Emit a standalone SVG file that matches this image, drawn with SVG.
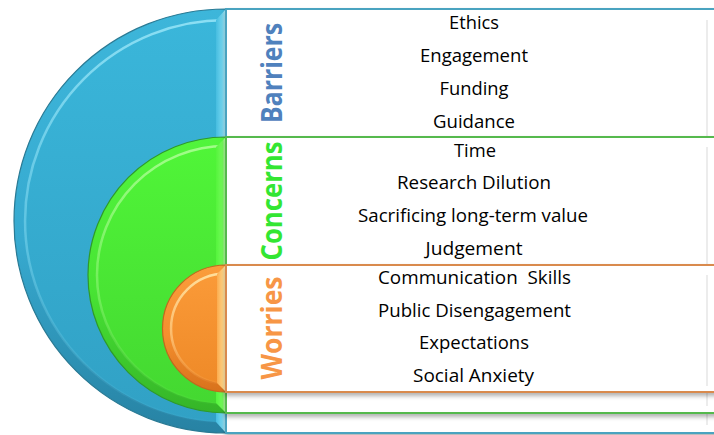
<svg xmlns="http://www.w3.org/2000/svg" width="714" height="435" viewBox="0 0 714 435">
  <defs>
    <filter id="boxShadow" x="-5%" y="-5%" width="110%" height="115%">
      <feDropShadow dx="0" dy="3" stdDeviation="2" flood-color="#000" flood-opacity="0.3"/>
    </filter>
    <filter id="soft" x="-5%" y="-5%" width="110%" height="110%">
      <feGaussianBlur stdDeviation="0.7"/>
    </filter>
    <!-- blue ring -->
    <linearGradient id="blueRim" x1="0" y1="0" x2="0" y2="1">
      <stop offset="0" stop-color="#3db6da"/>
      <stop offset="0.55" stop-color="#37aad0"/>
      <stop offset="1" stop-color="#2782a3"/>
    </linearGradient>
    <linearGradient id="blueMain" x1="0" y1="0" x2="0" y2="1">
      <stop offset="0" stop-color="#3ab6da"/>
      <stop offset="1" stop-color="#31a1c5"/>
    </linearGradient>
    <linearGradient id="blueHi" x1="0" y1="0" x2="0" y2="1">
      <stop offset="0" stop-color="#9fe9fa" stop-opacity="0.8"/>
      <stop offset="0.6" stop-color="#84dbf2" stop-opacity="0.45"/>
      <stop offset="1" stop-color="#6cc9e6" stop-opacity="0.05"/>
    </linearGradient>
    <linearGradient id="blueStrip" x1="0" y1="0" x2="1" y2="0">
      <stop offset="0" stop-color="#46bde0"/>
      <stop offset="0.6" stop-color="#6fd3ee"/>
      <stop offset="1" stop-color="#bdf4ff"/>
    </linearGradient>
    <!-- green ring -->
    <linearGradient id="greenRim" x1="0" y1="0" x2="0" y2="1">
      <stop offset="0" stop-color="#52f53c"/>
      <stop offset="0.55" stop-color="#48e434"/>
      <stop offset="1" stop-color="#35b428"/>
    </linearGradient>
    <linearGradient id="greenMain" x1="0" y1="0" x2="0" y2="1">
      <stop offset="0" stop-color="#50f538"/>
      <stop offset="1" stop-color="#44d831"/>
    </linearGradient>
    <linearGradient id="greenHi" x1="0" y1="0" x2="0" y2="1">
      <stop offset="0" stop-color="#b6ff9e" stop-opacity="0.8"/>
      <stop offset="0.6" stop-color="#9cf882" stop-opacity="0.45"/>
      <stop offset="1" stop-color="#80e868" stop-opacity="0.05"/>
    </linearGradient>
    <linearGradient id="greenStrip" x1="0" y1="0" x2="1" y2="0">
      <stop offset="0" stop-color="#55f43c"/>
      <stop offset="0.65" stop-color="#72f958"/>
      <stop offset="1" stop-color="#d2ffc0"/>
    </linearGradient>
    <!-- orange ring -->
    <linearGradient id="orangeRim" x1="0" y1="0" x2="0" y2="1">
      <stop offset="0" stop-color="#fa9d3c"/>
      <stop offset="0.55" stop-color="#f58f2e"/>
      <stop offset="1" stop-color="#d8721c"/>
    </linearGradient>
    <linearGradient id="orangeMain" x1="0" y1="0" x2="0" y2="1">
      <stop offset="0" stop-color="#fa9a38"/>
      <stop offset="1" stop-color="#ef8a28"/>
    </linearGradient>
    <linearGradient id="orangeHi" x1="0" y1="0" x2="0" y2="1">
      <stop offset="0" stop-color="#ffe2a0" stop-opacity="0.95"/>
      <stop offset="0.6" stop-color="#ffd08a" stop-opacity="0.65"/>
      <stop offset="1" stop-color="#ffb867" stop-opacity="0.1"/>
    </linearGradient>
    <linearGradient id="orangeStrip" x1="0" y1="0" x2="1" y2="0">
      <stop offset="0" stop-color="#fbab4e"/>
      <stop offset="0.6" stop-color="#ffcf7e"/>
      <stop offset="1" stop-color="#fff0bc"/>
    </linearGradient>
  </defs>
  <style>
    .box { fill: #ffffff; stroke-width: 2; filter: url(#boxShadow); }
    .bevel { stroke: #ececec; stroke-width: 2; fill: none; }
    .edge { stroke-width: 1.2; }
    .hi { fill: none; stroke-width: 2.5; filter: url(#soft); }
    .label { font-family: "Open Sans", "Liberation Sans", sans-serif; font-weight: 700; font-size: 28px; text-anchor: middle; }
    .item { font-family: "Open Sans", "Liberation Sans", sans-serif; font-size: 19px; fill: #000000; text-anchor: middle; }
  </style>

  <rect width="714" height="435" fill="#ffffff"/>

  <!-- Barriers: outer half disc and its panel -->
  <g id="barriers">
    <path class="edge" d="M226,9 A212,212 0 0 0 226,433 Z" fill="url(#blueRim)" stroke="#2a7a94"/>
    <path d="M226,20 A201,201 0 0 0 226,422 Z" fill="url(#blueMain)"/>
    <path class="hi" d="M226,20 A201,201 0 0 0 226,422" stroke="url(#blueHi)"/>
    <polygon points="216,20 226,9 226,433 216,422" fill="url(#blueStrip)"/>
    <rect class="box" x="226" y="9" width="500" height="424" stroke="#4aa3c0"/>
    <line class="bevel" x1="707" y1="20" x2="707" y2="425"/>
    <text class="label" fill="#4f81bd" transform="translate(282,73) rotate(-90)" textLength="100" lengthAdjust="spacingAndGlyphs">Barriers</text>
  </g>

  <!-- Concerns: middle half disc and its panel -->
  <g id="concerns">
    <path class="edge" d="M226,137 A138,138 0 0 0 226,413 Z" fill="url(#greenRim)" stroke="#2f9a2a"/>
    <path d="M226,146 A129,129 0 0 0 226,404 Z" fill="url(#greenMain)"/>
    <path class="hi" d="M226,146 A129,129 0 0 0 226,404" stroke="url(#greenHi)"/>
    <polygon points="216,147 226,137 226,413 216,403" fill="url(#greenStrip)"/>
    <rect class="box" x="226" y="137" width="500" height="276" stroke="#55b94e"/>
    <line class="bevel" x1="707" y1="147" x2="707" y2="406"/>
    <text class="label" fill="#33e633" transform="translate(282,201) rotate(-90)" textLength="119" lengthAdjust="spacingAndGlyphs">Concerns</text>
  </g>

  <!-- Worries: inner half disc and its panel -->
  <g id="worries">
    <path class="edge" d="M226,265 A63.5,63.5 0 0 0 226,392 Z" fill="url(#orangeRim)" stroke="#c0691e"/>
    <path d="M226,273.5 A55,55 0 0 0 226,383.5 Z" fill="url(#orangeMain)"/>
    <path class="hi" d="M226,273.5 A55,55 0 0 0 226,383.5" stroke="url(#orangeHi)" stroke-width="3"/>
    <polygon points="217,274 226,265 226,392 217,383" fill="url(#orangeStrip)"/>
    <rect class="box" x="226" y="265" width="500" height="127" stroke="#d98a4e"/>
    <line class="bevel" x1="707" y1="275" x2="707" y2="386"/>
    <text class="label" fill="#f79646" transform="translate(282,328) rotate(-90)" textLength="103" lengthAdjust="spacingAndGlyphs">Worries</text>
  </g>

  <!-- item lists -->
  <g id="barrier-items">
    <text class="item" x="474" y="29" textLength="50" lengthAdjust="spacingAndGlyphs">Ethics</text>
    <text class="item" x="474" y="62" textLength="108" lengthAdjust="spacingAndGlyphs">Engagement</text>
    <text class="item" x="474" y="95" textLength="69" lengthAdjust="spacingAndGlyphs">Funding</text>
    <text class="item" x="474" y="128" textLength="82" lengthAdjust="spacingAndGlyphs">Guidance</text>
  </g>
  <g id="concern-items">
    <text class="item" x="475" y="157" textLength="42" lengthAdjust="spacingAndGlyphs">Time</text>
    <text class="item" x="474" y="189" textLength="154" lengthAdjust="spacingAndGlyphs">Research Dilution</text>
    <text class="item" x="473" y="222" textLength="230" lengthAdjust="spacingAndGlyphs">Sacrificing long-term value</text>
    <text class="item" x="474" y="255" textLength="97" lengthAdjust="spacingAndGlyphs">Judgement</text>
  </g>
  <g id="worry-items">
    <text class="item" x="474.5" y="284" xml:space="preserve" textLength="193" lengthAdjust="spacingAndGlyphs">Communication  Skills</text>
    <text class="item" x="474.5" y="317" textLength="193" lengthAdjust="spacingAndGlyphs">Public Disengagement</text>
    <text class="item" x="474" y="349" textLength="110" lengthAdjust="spacingAndGlyphs">Expectations</text>
    <text class="item" x="473.5" y="382" textLength="121" lengthAdjust="spacingAndGlyphs">Social Anxiety</text>
  </g>
</svg>
